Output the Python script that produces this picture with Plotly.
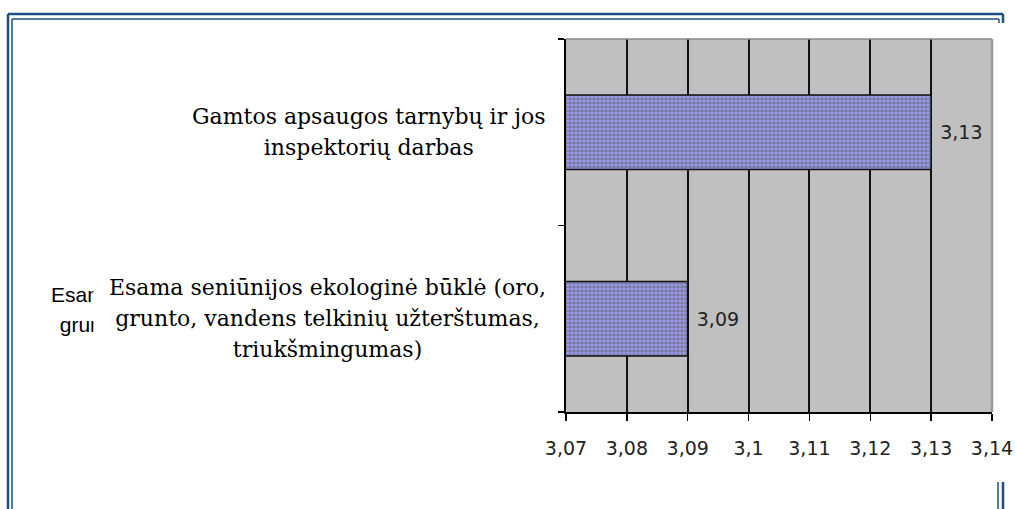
import plotly.graph_objects as go

# ---- data ----
categories = [
    "Esama seniūnijos ekologinė būklė (oro, grunto, vandens telkinių užterštumas, triukšmingumas)",
    "Gamtos apsaugos tarnybų ir jos inspektorių darbas",
]
label_lines = [
    ["Esama seniūnijos ekologinė būklė (oro,", "grunto, vandens telkinių užterštumas,", "triukšmingumas)"],
    ["Gamtos apsaugos tarnybų ir jos", "inspektorių darbas"],
]
values = [3.09, 3.13]
value_labels = ["3,09", "3,13"]
tick_values = [3.07, 3.08, 3.09, 3.10, 3.11, 3.12, 3.13, 3.14]
tick_labels = ["3,07", "3,08", "3,09", "3,1", "3,11", "3,12", "3,13", "3,14"]

W, H = 1015, 509
PL, PR, PT, PB = 566, 992, 39, 412


def px(x):
    return (x - PL) / (PR - PL)


def py(y):
    return (PB - y) / (PB - PT)


SANS = "DejaVu Sans, Verdana, sans-serif"

fig = go.Figure()
fig.add_trace(go.Bar(
    y=categories,
    x=values,
    orientation="h",
    width=0.4,
    marker=dict(
        color="#8080b0",
        line=dict(color="#111111", width=1.5),
        pattern=dict(shape=".", fgcolor="#9a9af2", bgcolor="#7a7a9c",
                     size=4, solidity=0.5, fillmode="replace"),
    ),
    text=["\u00a0" + t for t in value_labels],
    textposition="outside",
    textfont=dict(family=SANS, size=19, color="#222222"),
    hoverinfo="skip",
))

shapes = []
navy = "#1d4f85"
# double frame
for (x0, y0, x1, y1, w) in [
    (8, 14, 8, H + 2, 2.5), (8, 14, 1003, 14, 2.5), (1003, 14, 1003, 23, 2.5),
    (12, 19, 12, H + 2, 1.5), (12, 19, 999, 19, 1.5), (999, 19, 999, 23, 1.5),
    (998, 482, 998, H + 2, 1.5), (1003, 482, 1003, H + 2, 2.5),
]:
    shapes.append(dict(type="line", xref="paper", yref="paper",
                       x0=px(x0), y0=py(y0), x1=px(x1), y1=py(y1),
                       line=dict(color=navy, width=w), layer="above"))
# grey top/right border of plot area
shapes.append(dict(type="line", xref="paper", yref="paper", x0=0, y0=1, x1=1, y1=1,
                   line=dict(color="#888888", width=1.5), layer="above"))
shapes.append(dict(type="line", xref="paper", yref="paper", x0=1, y0=0, x1=1, y1=1,
                   line=dict(color="#999999", width=2.5), layer="above"))

annotations = []
# hidden sans-serif label partly showing behind the serif one
annotations.append(dict(
    xref="paper", yref="y", x=0, y=categories[0], xanchor="left", yanchor="middle",
    xshift=49 - PL, yshift=9, align="center", showarrow=False,
    text="<br>".join(f"<span style='font-size:21px'>{l}</span>" for l in label_lines[0][:2]),
    font=dict(family="Liberation Sans, Arial, sans-serif", size=23, color="#000000"),
))
# cover box
annotations.append(dict(
    xref="paper", yref="y", x=0, y=categories[0], xanchor="left", yanchor="middle",
    xshift=93 - PL, yshift=9, showarrow=False, text="\u00a0",
    width=22, height=66, bgcolor="white", borderpad=0,
))
for cat, lines in zip(categories, label_lines):
    annotations.append(dict(
        xref="paper", yref="y", x=0, y=cat, xanchor="right", yanchor="middle",
        xshift=549 - PL, align="center", showarrow=False, bgcolor="white", borderpad=2,
        text="<br>".join(f"<span style='font-size:22px'>{l}</span>" for l in lines),
        font=dict(family="DejaVu Serif, serif", size=24, color="#000000"),
    ))

fig.update_layout(
    width=W, height=H, autosize=False,
    margin=dict(l=PL, r=W - PR, t=PT, b=H - PB, pad=0, autoexpand=False),
    paper_bgcolor="white",
    plot_bgcolor="#c0c0c0",
    showlegend=False,
    bargap=0.6,
    separators=",.",
    shapes=shapes,
    annotations=annotations,
    xaxis=dict(
        range=[3.07, 3.14], tickvals=tick_values, ticktext=tick_labels,
        showgrid=True, gridcolor="#111111", gridwidth=2,
        showline=True, linecolor="#000000", linewidth=2,
        ticks="outside", ticklen=7, tickwidth=1.5, tickcolor="#000000",
        tickfont=dict(family=SANS, size=19, color="#222222"),
        ticklabelstandoff=11, zeroline=False, fixedrange=True, automargin=False,
    ),
    yaxis=dict(
        type="category", range=[-0.5, 1.5],
        showline=True, linecolor="#000000", linewidth=2,
        ticks="outside", tickson="boundaries", ticklen=6, tickwidth=1.5, tickcolor="#000000",
        showticklabels=False, showgrid=False, zeroline=False, fixedrange=True, automargin=False,
    ),
)

fig.write_html(
    "out.html",
    include_plotlyjs=True,
    config={"staticPlot": True},
    post_script="document.body.style.margin='0px';document.body.style.overflow='hidden';",
)
